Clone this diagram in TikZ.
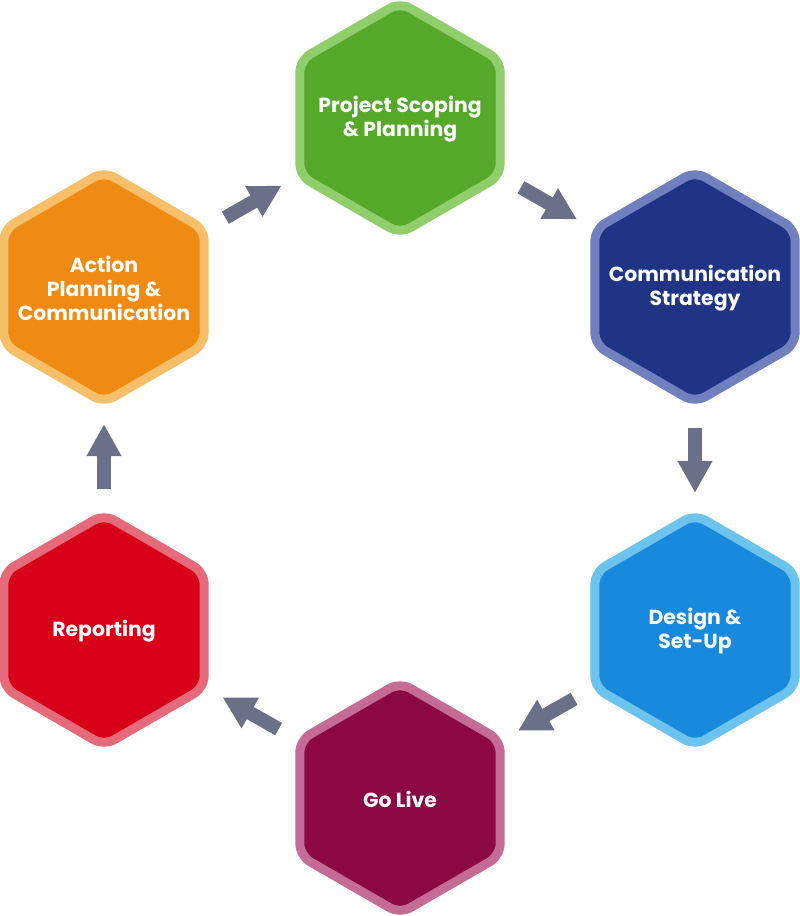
\documentclass[tikz,border=0pt]{standalone}
\usepackage{fontspec}
\setmainfont{Poppins}
\usetikzlibrary{arrows.meta,shapes.geometric,calc}

\definecolor{scopefill}{HTML}{56A82A}\definecolor{scopeline}{HTML}{8FCE6B}
\definecolor{stratfill}{HTML}{1F3485}\definecolor{stratline}{HTML}{7080BE}
\definecolor{setupfill}{HTML}{1889DC}\definecolor{setupline}{HTML}{6CC3EE}
\definecolor{livefill}{HTML}{8C0845}\definecolor{liveline}{HTML}{C46B96}
\definecolor{reptfill}{HTML}{D80018}\definecolor{reptline}{HTML}{E56B7B}
\definecolor{actfill}{HTML}{EF8A12}\definecolor{actline}{HTML}{F7BF6A}
\definecolor{flowgrey}{HTML}{6B7089}

\begin{document}
\begin{tikzpicture}[
  x=0.025cm,y=-0.025cm,
  font=\fontsize{14.5}{17.2}\selectfont\bfseries,
  hexa/.style={regular polygon,regular polygon sides=6,shape border rotate=30,
    minimum size=5.78cm,inner sep=0pt,line width=0.225cm,rounded corners=0.3cm},
  hextext/.style={text=white,align=center,yshift=-1pt},
  flow/.style={draw=flowgrey,line width=0.35cm,-{Triangle[length=0.8cm,width=0.82cm]}}
]
\fill[white] (0,0) rectangle (800,916);
\useasboundingbox (0,0) rectangle (800,916);

\node[hexa,fill=scopefill,draw=scopeline,
  label={[hextext]center:Project Scoping\\\& Planning}] (scope) at (400,118) {};
\node[hexa,fill=stratfill,draw=stratline,
  label={[hextext]center:Communication\\Strategy}] (strat) at (695,287) {};
\node[hexa,fill=setupfill,draw=setupline,
  label={[hextext]center:Design \&\\Set-Up}] (setup) at (695,630) {};
\node[hexa,fill=livefill,draw=liveline,
  label={[hextext]center:Go Live}] (live) at (400,798) {};
\node[hexa,fill=reptfill,draw=reptline,
  label={[hextext]center:Reporting}] (rept) at (104,630) {};
\node[hexa,fill=actfill,draw=actline,
  label={[hextext]center:Action\\Planning \&\\Communication}] (act) at (104,287) {};

\draw[flow] ($(act)!0.41!(scope)$) -- ($(act)!0.60!(scope)$);
\draw[flow] ($(scope)!0.41!(strat)$) -- ($(scope)!0.60!(strat)$);
\draw[flow] ($(strat)!0.41!(setup)$) -- ($(strat)!0.60!(setup)$);
\draw[flow] ($(setup)!0.41!(live)$) -- ($(setup)!0.60!(live)$);
\draw[flow] ($(live)!0.41!(rept)$) -- ($(live)!0.60!(rept)$);
\draw[flow] ($(rept)!0.41!(act)$) -- ($(rept)!0.60!(act)$);
\end{tikzpicture}
\end{document}
